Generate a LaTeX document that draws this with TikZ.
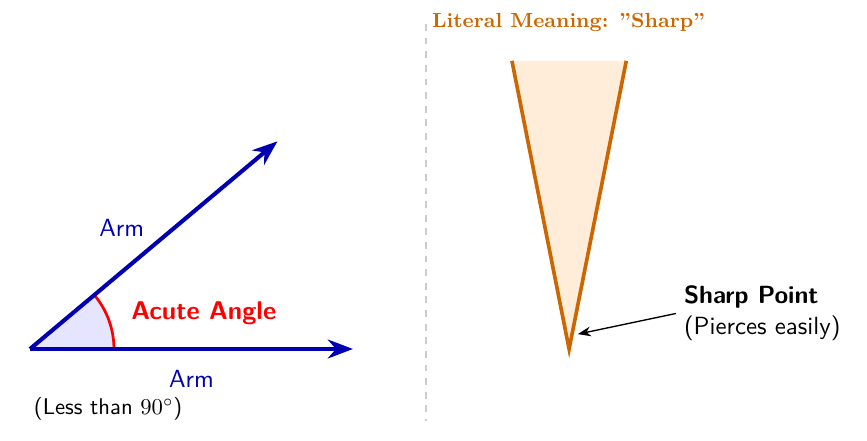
\documentclass[tikz,border=0pt]{standalone}
\usetikzlibrary{arrows.meta}
\definecolor{armblue}{rgb}{0,0,0.7}
\definecolor{sharporange}{rgb}{0.8,0.4,0}
\newcommand{\basesize}{\fontsize{10.95}{13.6}\selectfont}
\newcommand{\acutesize}{\fontsize{11.3}{13.8}\selectfont}
\newcommand{\smallsize}{\fontsize{10}{12}\selectfont}
\newcommand{\titlesize}{\fontsize{9}{11}\selectfont}
\begin{document}
\begin{tikzpicture}[font=\sffamily\basesize,
  armline/.style={armblue, line width=1.8pt, -{Stealth}},
  armlabel/.style={text=armblue},
  bladeline/.style={sharporange, line width=1.6pt, line join=miter},
]
\useasboundingbox (-0.464,-1.424) rectangle (12.956,5.402);
% left: acute angle
\coordinate (V) at (0,0);
\coordinate (E1) at (5,0);
\coordinate (E2) at (40:5);
\fill[blue!10] (V) -- (1.3,0) arc (0:40:1.3) -- cycle;
\draw[red, very thick] (1.3,0) arc (0:40:1.3);
\draw[armline] (V) -- (E1);
\draw[armline] (V) -- (E2);
\node[armlabel] (armup) at (1.42,1.87) {Arm};
\node[armlabel] (armdown) at (2.5,-0.47) {Arm};
\node[text=red, font=\sffamily\bfseries\acutesize] (acute) at (2.69,0.56) {Acute Angle};
\node[font=\sffamily\smallsize] (less) at (1.21,-0.93) {(Less than $90^\circ$)};
% divider
\coordinate (D1) at (6.13,5.03);
\coordinate (D2) at (6.13,-1.11);
\draw[gray!40, thick, dashed] (D1) -- (D2);
% right: sharp
\node[anchor=west, text=sharporange, font=\rmfamily\bfseries\titlesize] (title) at (6.1,5.06) {Literal Meaning: "Sharp"};
\coordinate (TL) at (7.46,4.46);
\coordinate (TR) at (9.23,4.46);
\coordinate (TIP) at (8.345,0);
\fill[orange!15] (TL) -- (TIP) -- (TR) -- cycle;
\draw[bladeline] (TL) -- (TIP) -- (TR);
\node[anchor=west, align=left] (sharp) at (10.0,0.55) {\textbf{Sharp Point}\\(Pierces easily)};
\coordinate (pt) at (8.48,0.23);
\draw[semithick, -{Stealth}] (sharp.west) -- (pt);
\end{tikzpicture}
\end{document}
